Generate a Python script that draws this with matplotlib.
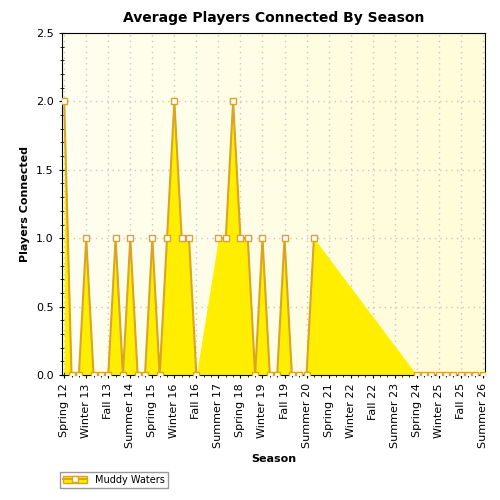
import numpy as np
import matplotlib
matplotlib.use("Agg")
import matplotlib.pyplot as plt
from matplotlib.colors import LinearSegmentedColormap
from matplotlib.lines import Line2D
from matplotlib.patches import Patch

categories = ["Spring 12", "Summer 12", "Fall 12"]
for yr in range(13, 27):
    for s in ["Winter", "Spring", "Summer", "Fall"]:
        categories.append(f"{s} {yr}")
categories = categories[:58]  # Spring 12 .. Summer 26

nan = np.nan
values = [2, 0, 0, 1, 0, 0, 0, 1, 0, 1,
          0, 0, 1, 0, 1, 2, 1, 1, 0, nan,
          nan, 1, 1, 2, 1, 1, 0, 1, 0, 0,
          1, 0, 0, 0, 1, nan, nan, nan, nan, nan,
          nan, nan, nan, nan, nan, nan, nan, nan, 0, 0,
          0, 0, 0, 0, 0, 0, 0, 0]
series_name = "Muddy Waters"

y = np.array(values, dtype=float)
x = np.arange(len(categories))
valid = ~np.isnan(y)

fig = plt.figure(figsize=(5, 5), dpi=100)
fig.patch.set_facecolor("white")
ax = fig.add_axes([0.124, 0.25, 0.846, 0.684])

grad = np.linspace(0, 1, 256).reshape(1, -1)
cmap = LinearSegmentedColormap.from_list("bg", ["#FFFFF0", "#FFFCD8"])
ax.imshow(grad, extent=[-0.3, len(categories) - 0.7, 0, 2.5], aspect="auto",
          cmap=cmap, zorder=0)

ax.fill_between(x[valid], y[valid], 0, color="#FFEE00", lw=0, zorder=2)
ax.plot(x, y, color="#DAA520", lw=1.5, zorder=3)
ax.plot(x[valid], y[valid], ls="none", marker="s", ms=5, mfc="white",
        mec="#DAA520", mew=1, zorder=4)

ax.set_xlim(-0.3, len(categories) - 0.7)
ax.set_ylim(0, 2.5)
ax.set_xticks(x[::3])
ax.set_xticklabels([categories[i] for i in x[::3]], rotation=90, fontsize=8)
ax.set_xticks(x, minor=True)
ax.set_yticks(np.arange(0, 2.51, 0.5))
ax.set_yticklabels([f"{v:.1f}" for v in np.arange(0, 2.51, 0.5)], fontsize=8)
ax.set_yticks(np.arange(0, 2.51, 0.1), minor=True)
ax.grid(True, which="major", color="#C8C8C8", ls=(0, (1, 3)), lw=1, zorder=1)
ax.set_axisbelow(True)
ax.tick_params(which="major", length=5, direction="inout")
ax.tick_params(which="minor", length=3, direction="inout")
for s in ax.spines.values():
    s.set_color("black")

ax.set_title("Average Players Connected By Season", fontsize=10,
             fontweight="bold", pad=8)
ax.set_xlabel("Season", fontsize=8, fontweight="bold")
ax.set_ylabel("Players Connected", fontsize=8, fontweight="bold")

handle = (Patch(facecolor="#FFEE00", edgecolor="#DAA520"),
          Line2D([], [], color="#DAA520", marker="s", mfc="white", mec="#DAA520", ms=5))
fig.legend([handle], [series_name], loc="lower left",
           bbox_to_anchor=(0.11, 0.015), fontsize=7, frameon=True,
           fancybox=False, edgecolor="#808080", borderpad=0.3, handlelength=2.5)

fig.savefig("out.png", dpi=100)
